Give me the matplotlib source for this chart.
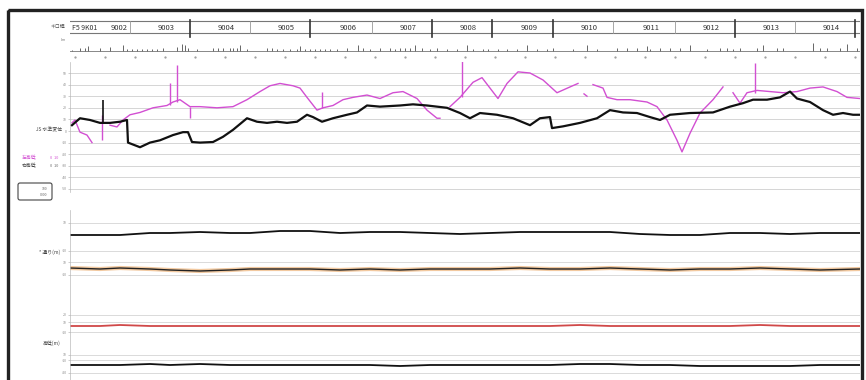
import matplotlib
matplotlib.use("Agg")
import matplotlib.pyplot as plt
import numpy as np
from matplotlib.patches import Rectangle, FancyBboxPatch

plt.rcParams['font.family'] = ['Noto Sans CJK JP', 'DejaVu Sans']

W, H = 866, 380

# header (km posts), distance units along the track
km_first = "F5 9K01"
km_labels = ["9002", "9003", "9004", "9005", "9006", "9007", "9008",
             "9009", "9010", "9011", "9012", "9013", "9014"]
km_div = [60, 120, 180, 240, 302, 362, 422, 483, 543, 605, 665, 725, 785]
km_major = [120, 240, 362, 422, 483, 665, 785]

# structure marks in the strip below the header
mark_x = [2, 10, 15, 18, 30, 40, 53, 57, 62, 67, 72, 77, 82, 87, 93, 107, 112, 115,
          118, 127, 143, 148, 153, 160, 163, 167, 170, 177, 197, 202, 207, 213, 220,
          227, 230, 235, 240, 245, 250, 255, 260, 267, 277, 288, 293, 300, 310, 320,
          325, 330, 335, 340, 345, 352, 360, 367, 377, 387, 397, 403, 413, 418, 428,
          437, 447, 457, 467, 477, 483, 503, 517, 527, 547, 557, 567, 577, 580, 590,
          600, 610, 620, 637, 650, 657, 663, 670, 687, 693, 707, 713, 743, 750, 757,
          770, 777, 787]
mark_h = [1, 3, 3, 5, 3, 4, 6, 2, 2, 2, 2, 2, 2, 2, 3, 4, 7, 6, 3, 2, 3, 3, 3, 3,
          3, 3, 6, 2, 3, 3, 2, 2, 2, 2, 5, 2, 2, 2, 2, 2, 2, 2, 3, 6, 3, 2, 3, 3, 2,
          3, 3, 3, 6, 3, 2, 3, 2, 2, 6, 2, 2, 2, 2, 2, 2, 6, 2, 2, 3, 2, 6, 2, 3, 3,
          3, 5, 2, 3, 3, 3, 6, 2, 3, 3, 2, 3, 3, 6, 3, 3, 8, 3, 3, 3, 7, 3]

# main panel: two traces (mm)
black_x = [2, 10, 20, 30, 40, 50, 57, 58, 70, 80, 90, 103, 113, 118, 122, 130, 143,
           153, 163, 177, 187, 197, 207, 217, 227, 237, 243, 252, 263, 277, 287, 297,
           310, 330, 343, 357, 367, 377, 390, 400, 410, 427, 443, 460, 470, 480, 482,
           493, 510, 527, 540, 553, 567, 580, 590, 600, 620, 643, 660, 673, 683, 697,
           710, 720, 727, 740, 753, 763, 773, 783, 790]
black_y = [5, 11, 9.5, 7, 7, 8, 9.5, -10, -14, -10, -8, -3.5, -1, -1, -9.5, -10, -9.5,
           -5, 1, 11, 8, 7, 8, 7, 8, 14, 12, 8, 11, 14, 16, 22, 21, 22, 23, 22, 21, 20,
           15.5, 11, 15.5, 14, 11, 5, 11, 12, 2.5, 4, 7, 11, 18, 16, 15.5, 12, 9.5, 14,
           15.5, 16, 21, 24, 27, 27, 29, 34, 28, 25, 18, 14, 15.5, 14, 14]

nan = np.nan
pink_x = [2, 5, 10, 17, 22, 30, 40, 47, 53, 60, 70, 83, 97, 103, 110, 120, 130, 147,
          163, 177, 190, 200, 210, 223, 230, 237, 247, 253, 263, 273, 283, 297, 310,
          323, 333, 347, 357, 367, 370, 375, 380, 390, 403, 412, 420, 428, 437, 448,
          460, 473, 487, 500, 508, 511, 514, 517, 520, 523, 533, 537, 547, 560, 577,
          587, 597, 607, 612, 620, 630, 643, 653, 658, 663, 670, 677, 687, 700, 713,
          727, 740, 753, 767, 777, 790]
pink_y = [7, 9.5, -1, -3.5, -10, nan, 5, 3.5, 9.5, 14, 16, 20, 22, 25, 27, 21, 21, 20,
          21, 27, 34, 39, 41, 39, 37, 29, 18, 20, 22, 27, 29, 31, 28, 33, 34, 28, 18,
          11, 11, nan, 21, 29, 42, 46, 37, 28, 41, 51, 50, 44, 33, 38, 41, nan, 32, 30,
          nan, 40, 37, 29, 27, 27, 25, 21, 9.5, -8, -18, -2, 15.5, 27, 38, nan, 33, 24,
          33, 35, 34, 33, 34, 37, 38, 34, 29, 28]

black_spike_x = [33]
black_spike_lo = [7]
black_spike_hi = [27]
pink_spike_x = [32, 100, 107, 120, 252, 392, 685]
pink_spike_lo = [-8, 22, 25, 11, 20, 29, 33]
pink_spike_hi = [14, 41, 57, 21, 34, 60, 59]

# lower channels (deviation around each channel's base line)
low_x = [0, 30, 50, 80, 100, 130, 160, 180, 210, 240, 270, 300, 330, 360, 390, 420,
         450, 480, 510, 540, 570, 600, 630, 660, 690, 720, 750, 790]
ch_a = [1, 1, 1, -1, -1, -2, -1, -1, -3, -3, -1, -2, -2, -1, 0, -1, -2, -2, -2, -2,
        0, 1, 1, -1, -1, 0, -1, -1]
ch_b = [-1, 0, -1, 0, 1, 2, 1, 0, 0, 0, 1, 0, 1, 0, 0, 0, -1, 0, 0, -1, 0, 1, 0, 0,
        -1, 0, 1, 0]
ch_c = [0, 0, -1, 0, 0, 0, 0, 0, 0, 0, 0, 0, 0, 0, 0, 0, 0, 0, -1, 0, 0, 0, 0, 0,
        -1, 0, 0, 0]
ch_d = [0, 0, 0, -1, 0, -1, 0, 0, 0, 0, 0, 0, 1, 0, 0, 0, 0, 0, -1, -1, 0, 0, 1, 1,
        1, 1, 0, 0]


def rect(x0, y0, x1, y1):
    return [x0 / W, 1 - y1 / H, (x1 - x0) / W, (y1 - y0) / H]


fig = plt.figure(figsize=(W / 100, H / 100), dpi=100)
fig.patch.set_facecolor("white")

# overlay in pixel coordinates for frame and labels
ov = fig.add_axes([0, 0, 1, 1])
ov.set_xlim(0, W)
ov.set_ylim(H, 0)
ov.axis("off")
ov.add_patch(Rectangle((8, 10), 854, 380, fill=False, lw=2.4, ec="#222222"))
ov.text(65, 26, "キロ程", fontsize=3.5, ha="right", va="center", color="#555555")
ov.text(66, 40, "km", fontsize=2.5, ha="right", va="center", color="#777777")
ov.text(62, 130, "JS 水準変位", fontsize=3.5, ha="right", va="center", color="#444444")
ov.text(22, 158, "左高低", fontsize=3.5, va="center", color="#d24fd2")
ov.text(22, 166, "右高低", fontsize=3.5, va="center", color="#444444")
ov.text(50, 158, "0  10", fontsize=2.8, va="center", color="#d24fd2")
ov.text(50, 166, "0  10", fontsize=2.8, va="center", color="#666666")
ov.add_patch(FancyBboxPatch((18, 183), 34, 17, boxstyle="round,pad=0,rounding_size=2",
                            fill=False, lw=0.8, ec="#444444"))
ov.text(47, 189, "100", fontsize=2.5, ha="right", va="center", color="#666666")
ov.text(47, 195, "0000", fontsize=2.5, ha="right", va="center", color="#666666")
ov.text(60, 252, "* 通り(m)", fontsize=3.5, ha="right", va="center", color="#444444")
ov.text(60, 343, "高低(m)", fontsize=3.5, ha="right", va="center", color="#444444")

# header with km posts
hd = fig.add_axes(rect(70, 14, 860, 40))
hd.set_xlim(0, 790)
hd.set_ylim(40, 14)
hd.axis("off")
hd.plot([-2, 790], [21, 21], color="#777777", lw=0.8)
hd.plot([-2, 790], [33, 33], color="#777777", lw=0.8)
hd.plot([-2, -2], [21, 33], color="#777777", lw=0.8)
for d in km_div:
    if d in km_major:
        hd.plot([d, d], [20, 37], color="#333333", lw=1.2)
    else:
        hd.plot([d, d], [21, 33], color="#999999", lw=0.6)
hd.text(2, 27.5, km_first, fontsize=5, va="center", color="#333333")
for i, (d, lab) in enumerate(zip(km_div, km_labels)):
    off = 11 if i == 0 else 24
    hd.text(d - off, 27.5, lab, fontsize=5.5, ha="center", va="center", color="#333333")

# structure strip
st = fig.add_axes(rect(70, 36, 860, 60))
st.set_xlim(0, 790)
st.set_ylim(60, 36)
st.axis("off")
st.plot([0, 790], [51, 51], color="#888888", lw=0.7)
st.vlines(mark_x, [51] * len(mark_x), [51 - h for h in mark_h], color="#666666", lw=0.7)
dots = np.arange(5, 790, 30)
st.plot(dots, [57] * len(dots), ls="none", marker=".", ms=1.2, color="#999999")

# main panel
ax = fig.add_axes(rect(70, 62, 860, 192))
ax.set_xlim(0, 790)
ax.set_ylim(-52.6, 59.5)
for g in range(-50, 51, 10):
    ax.axhline(g, color="#cfcfcf", lw=0.6, zorder=0)
ax.plot(pink_x, pink_y, color="#d24fd2", lw=1.0, zorder=2)
ax.vlines(pink_spike_x, pink_spike_lo, pink_spike_hi, color="#d24fd2", lw=1.0, zorder=2)
ax.plot(black_x, black_y, color="#111111", lw=1.6, zorder=3)
ax.vlines(black_spike_x, black_spike_lo, black_spike_hi, color="#111111", lw=1.2, zorder=3)
ax.set_yticks(range(-50, 51, 10))
ax.set_yticklabels([str(v) for v in range(-50, 51, 10)], fontsize=2.5, color="#888888")
ax.tick_params(axis="y", length=1.5, width=0.4, color="#aaaaaa", pad=1)
ax.set_xticks([])
for s in ["top", "right", "bottom"]:
    ax.spines[s].set_visible(False)
ax.spines["left"].set_color("#bbbbbb")
ax.spines["left"].set_linewidth(0.5)

# lower channels
lo = fig.add_axes(rect(70, 210, 860, 380))
lo.set_xlim(0, 790)
lo.set_ylim(380, 210)
low_grid = [223, 251, 262, 275, 315, 322, 332, 355, 360, 373]
for g in low_grid:
    lo.axhline(g, color="#d4d4d4", lw=0.6, zorder=0)
base = [234, 269, 326, 365]
lo.plot(low_x, np.array(ch_b) + base[1], color="#f2c9a0", lw=3.0, zorder=1)
lo.plot(low_x, np.array(ch_a) + base[0], color="#111111", lw=1.3, zorder=2)
lo.plot(low_x, np.array(ch_b) + base[1], color="#222222", lw=1.0, zorder=2)
lo.plot(low_x, np.array(ch_c) + base[2], color="#d04848", lw=1.3, zorder=2)
lo.plot(low_x, np.array(ch_d) + base[3], color="#111111", lw=1.3, zorder=2)
lo.set_yticks(low_grid)
lo.set_yticklabels(["10", "-10", "10", "-10", "20", "10", "-10", "10", "-10", "-20"],
                   fontsize=2.5, color="#888888")
lo.tick_params(axis="y", length=1.5, width=0.4, color="#aaaaaa", pad=1)
lo.set_xticks([])
for s in ["top", "right", "bottom"]:
    lo.spines[s].set_visible(False)
lo.spines["left"].set_color("#bbbbbb")
lo.spines["left"].set_linewidth(0.5)

fig.savefig("out.png", dpi=100)
